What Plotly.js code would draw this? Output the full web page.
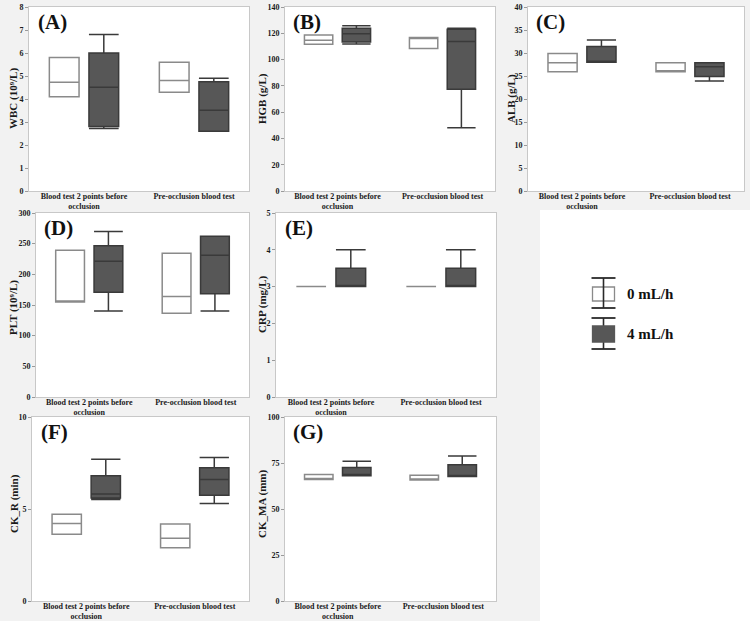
<!DOCTYPE html>
<html>
<head>
<meta charset="utf-8">
<script src="https://cdn.plot.ly/plotly-3.0.1.min.js"></script>
<style>
  html, body { margin: 0; padding: 0; background: #f2f2f2; }
  #chart { width: 750px; height: 621px; }
</style>
</head>
<body>
<div id="chart"></div>
<script>
// Two sampling time points shared by every panel
const categories = ['Blood test 2 points before<br>occlusion', 'Pre-occlusion blood test'];
const groups = ['0 mL/h', '4 mL/h'];

// Five-number summaries per category: [lower whisker, Q1, median, Q3, upper whisker]
const wbc0 = [[4.10, 4.10, 4.73, 5.80, 5.80], [4.29, 4.29, 4.80, 5.60, 5.60]];
const wbc4 = [[2.72, 2.80, 4.51, 6.00, 6.80], [2.60, 2.60, 3.51, 4.75, 4.90]];

const hgb0 = [[111.6, 111.6, 114.7, 118.7, 118.7], [108.4, 108.4, 116.0, 116.8, 116.8]];
const hgb4 = [[111.9, 113.4, 119.7, 123.8, 125.8], [48.1, 77.5, 113.7, 123.0, 123.8]];

const alb0 = [[25.9, 25.9, 27.9, 29.9, 29.9], [25.9, 25.9, 26.0, 27.9, 27.9]];
const alb4 = [[28.0, 28.0, 28.0, 31.4, 32.8], [23.9, 24.9, 27.0, 27.9, 27.9]];

const plt0 = [[154.7, 154.7, 155.8, 239.4, 239.4], [136.5, 136.5, 164.0, 234.5, 234.5]];
const plt4 = [[140.3, 170.6, 221.3, 246.6, 269.7], [140.3, 168.4, 231.0, 262.0, 262.0]];

const crp0 = [[3.0, 3.0, 3.0, 3.0, 3.0], [3.0, 3.0, 3.0, 3.0, 3.0]];
const crp4 = [[3.0, 3.0, 3.0, 3.5, 4.0], [3.0, 3.0, 3.0, 3.5, 4.0]];

const ckr0 = [[3.63, 3.63, 4.21, 4.72, 4.72], [2.90, 2.90, 3.41, 4.19, 4.19]];
const ckr4 = [[5.52, 5.60, 5.81, 6.81, 7.71], [5.30, 5.75, 6.61, 7.24, 7.80]];

const ckma0 = [[66.1, 66.1, 66.1, 68.8, 68.8], [65.7, 65.7, 65.9, 68.4, 68.4]];
const ckma4 = [[68.1, 68.1, 68.8, 72.6, 75.9], [67.7, 67.7, 68.0, 74.0, 78.8]];

// Panel letters, y-axis titles and tick settings
const panelLetters = ['(A)', '(B)', '(C)', '(D)', '(E)', '(F)', '(G)'];
const yTitles = ['WBC (10⁹/L)', 'HGB (g/L)', 'ALB (g/L)', 'PLT (10⁹/L)',
                 'CRP (mg/L)', 'CK_R (min)', 'CK_MA (mm)'];
const yMax = [8, 140, 40, 300, 5, 10, 100];
const yStep = [1, 20, 5, 50, 1, 5, 25];

const W = 750, H = 621;
const SERIF = '"Liberation Serif", "Times New Roman", serif';
const px = v => v / W;
const py = v => 1 - v / H;

// Side-by-side placement of the two infusion groups within a time point
const groupOffset = [-0.18, 0.18];
const boxWidth = 0.27;

// Plot-area rectangles in pixels [left, right, top, bottom]
const boxesPx = [
  [29, 249, 7, 191],   // A
  [285, 495, 7, 191],  // B
  [528, 744, 7, 191],  // C
  [36, 249, 213, 397], // D
  [276, 496, 213, 397],// E
  [32, 249, 417, 601], // F
  [285, 496, 417, 601] // G
];
// Centre of each rotated y title in pixels [x, y]
const yTitlePos = [[13, 99], [262, 99], [511, 99], [13, 308], [262, 305], [14, 504], [262, 504]];

const panels = [[wbc0, wbc4], [hgb0, hgb4], [alb0, alb4], [plt0, plt4], [crp0, crp4], [ckr0, ckr4], [ckma0, ckma4]];

const styles = [
  { fill: '#ffffff', line: '#8a8a8a' },
  { fill: '#575757', line: '#3a3a3a' }
];

function boxTrace(stats, gi, axn) {
  const sfx = axn === 1 ? '' : String(axn);
  return {
    type: 'box',
    name: groups[gi],
    x: categories.map((_, ci) => ci + groupOffset[gi]),
    lowerfence: stats.map(s => s[0]),
    q1: stats.map(s => s[1]),
    median: stats.map(s => s[2]),
    q3: stats.map(s => s[3]),
    upperfence: stats.map(s => s[4]),
    width: boxWidth,
    xaxis: 'x' + sfx,
    yaxis: 'y' + sfx,
    fillcolor: styles[gi].fill,
    line: { color: styles[gi].line, width: 1.5 },
    whiskerwidth: 1,
    boxpoints: false,
    hoverinfo: 'skip',
    showlegend: false
  };
}

const data = [];
panels.forEach((pair, i) => {
  data.push(boxTrace(pair[0], 0, i + 1));
  data.push(boxTrace(pair[1], 1, i + 1));
});

const layout = {
  width: W, height: H,
  margin: { l: 0, r: 0, t: 0, b: 0 },
  paper_bgcolor: '#f2f2f2',
  plot_bgcolor: '#ffffff',
  showlegend: false,
  boxmode: 'overlay',
  font: { family: SERIF, color: '#1a1a1a' },
  annotations: [],
  shapes: []
};

boxesPx.forEach((b, i) => {
  const sfx = i === 0 ? '' : String(i + 1);
  layout['xaxis' + sfx] = {
    domain: [px(b[0]), px(b[1])],
    anchor: 'y' + sfx,
    range: [-0.5, categories.length - 0.5],
    tickvals: categories.map((_, ci) => ci),
    ticktext: categories,
    showline: true, mirror: true, linecolor: '#c8c8c8', linewidth: 1,
    ticks: '', showgrid: false, zeroline: false, fixedrange: true,
    ticklabelstandoff: -3,
    tickfont: { family: SERIF, size: 8, color: '#1a1a1a', weight: 'bold' }
  };
  layout['yaxis' + sfx] = {
    domain: [py(b[3]), py(b[2])],
    anchor: 'x' + sfx,
    range: [0, yMax[i]],
    dtick: yStep[i], tick0: 0,
    showline: true, mirror: true, linecolor: '#c8c8c8', linewidth: 1,
    ticks: 'outside', ticklen: 3, tickcolor: '#9a9a9a', tickwidth: 1,
    showgrid: false, zeroline: false, fixedrange: true,
    tickfont: { family: SERIF, size: 8, color: '#1a1a1a', weight: 'bold' }
  };
  layout.annotations.push({
    xref: 'x' + sfx + ' domain', yref: 'y' + sfx + ' domain',
    x: 0.03, y: 0.995, xanchor: 'left', yanchor: 'top',
    text: panelLetters[i], showarrow: false,
    font: { family: SERIF, size: 21, color: '#111111', weight: 'bold' }
  });
  layout.annotations.push({
    xref: 'paper', yref: 'paper',
    x: px(yTitlePos[i][0]), y: py(yTitlePos[i][1]),
    xanchor: 'center', yanchor: 'middle', textangle: -90,
    text: yTitles[i], showarrow: false,
    font: { family: SERIF, size: 11, color: '#1a1a1a', weight: 'bold' }
  });
});

// White area in the lower right holding the legend
layout.shapes.push({
  type: 'rect', xref: 'paper', yref: 'paper', layer: 'below',
  x0: px(540), x1: 1, y0: 0, y1: py(210),
  fillcolor: '#ffffff', line: { width: 0 }
});

// Hand-drawn legend: box with whiskers and caps, then the label
function legendItem(top, boxTop, boxBottom, bottom, gi) {
  const cx = 603.5, l = 592.5, r = 614.5;
  const lineCol = '#2a2a2a';
  const seg = (x0, y0, x1, y1, col, w) => ({
    type: 'line', xref: 'paper', yref: 'paper',
    x0: px(x0), y0: py(y0), x1: px(x1), y1: py(y1),
    line: { color: col, width: w }
  });
  if (gi === 1) layout.shapes.push(seg(cx, top, cx, bottom, lineCol, 1.6));
  layout.shapes.push({
    type: 'rect', xref: 'paper', yref: 'paper',
    x0: px(l), x1: px(r), y0: py(boxBottom), y1: py(boxTop),
    fillcolor: styles[gi].fill, line: { color: gi === 0 ? '#8a8a8a' : '#575757', width: 1.3 }
  });
  if (gi === 0) layout.shapes.push(seg(cx, top, cx, bottom, lineCol, 1.6));
  layout.shapes.push(seg(l - 1, top, r + 1, top, lineCol, 1.8));
  layout.shapes.push(seg(l - 1, bottom, r + 1, bottom, lineCol, 1.8));
  layout.annotations.push({
    xref: 'paper', yref: 'paper',
    x: px(625), y: py((boxTop + boxBottom) / 2),
    xanchor: 'left', yanchor: 'middle', showarrow: false,
    text: groups[gi],
    font: { family: SERIF, size: 15, color: '#111111', weight: 'bold' }
  });
}
legendItem(278, 287, 301, 308, 0);
legendItem(318, 326, 342, 349, 1);

Plotly.newPlot('chart', data, layout, { displayModeBar: false, staticPlot: true });
</script>
</body>
</html>
